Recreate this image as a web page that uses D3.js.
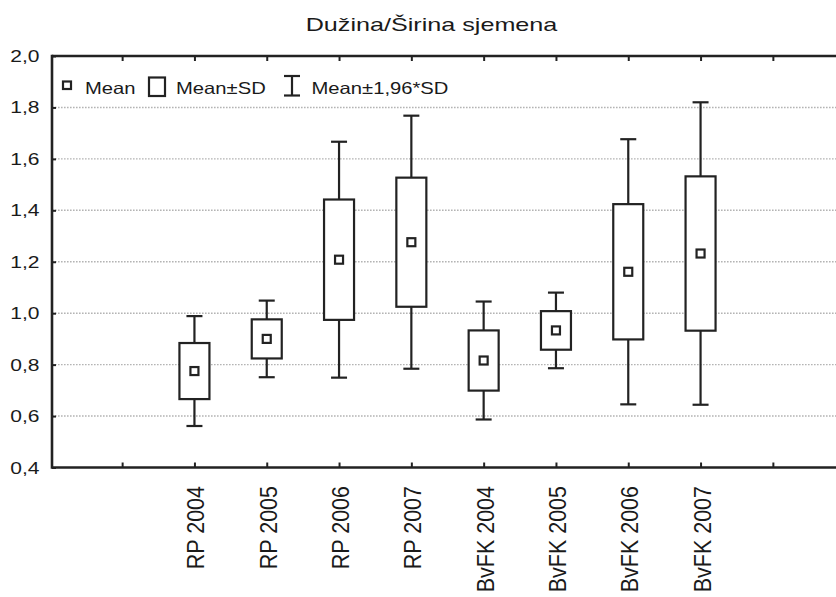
<!DOCTYPE html>
<html>
<head>
<meta charset="utf-8">
<script src="https://cdn.jsdelivr.net/npm/d3@7"></script>
<style>
  html, body { margin: 0; padding: 0; background: #fff; }
  text { font-family: "Liberation Sans", Arial, Helvetica, sans-serif; fill: #1a1a1a; }
</style>
</head>
<body>
<svg id="chart" width="836" height="597"></svg>
<script>
// Seed length/width ratio per group and year
const categories = ["RP 2004", "RP 2005", "RP 2006", "RP 2007",
                    "BvFK 2004", "BvFK 2005", "BvFK 2006", "BvFK 2007"];
const means = [0.775, 0.900, 1.208, 1.276, 0.816, 0.933, 1.161, 1.232];
const sds   = [0.109, 0.076, 0.234, 0.251, 0.117, 0.075, 0.263, 0.300];
const yTicks = [0.4, 0.6, 0.8, 1.0, 1.2, 1.4, 1.6, 1.8, 2.0];
const titleText = "Dužina/Širina sjemena";
const legendLabels = ["Mean", "Mean±SD", "Mean±1,96*SD"];

const W = 836, H = 597;
const plot = { left: 52, right: 843, top: 56, bottom: 467.5 };
const ink = "#222";
const fmt = v => d3.format(".1f")(v).replace(".", ",");

const svg = d3.select("#chart");

// empty slot at each end of the category axis
const slots = ["_a", ...categories, "_b"];
const x = d3.scalePoint().domain(slots).range([plot.left, plot.right]).padding(0.97);
const y = d3.scaleLinear().domain([0.4, 2.0]).range([plot.bottom, plot.top]);

// horizontally widened text helper
function wideText(g, str, tx, ty, size, sx, anchor) {
  return g.append("text")
    .attr("transform", `translate(${tx},${ty}) scale(${sx},1)`)
    .attr("text-anchor", anchor || "start")
    .style("font-size", size + "px")
    .text(str);
}

// title
wideText(svg, titleText, 431.5, 31, 18.5, 1.36, "middle");

// dotted grid lines
svg.append("g").selectAll("line")
  .data(yTicks.filter(v => v > 0.4 && v < 2.0))
  .join("line")
  .attr("x1", plot.left).attr("x2", W)
  .attr("y1", d => y(d)).attr("y2", d => y(d))
  .attr("stroke", "#b4b4b4").attr("stroke-width", 1.4)
  .attr("stroke-dasharray", "1.6,1.4");

// axes: ticks pointing into the plot
const bottomAxis = d3.axisTop(x).tickValues(slots).tickSize(5).tickFormat("");
const topAxis = d3.axisBottom(x).tickValues(slots).tickSize(5).tickFormat("");
const leftAxis = d3.axisRight(y).tickValues(yTicks).tickSize(4).tickFormat("");

function styleAxis(g) {
  g.select(".domain").remove();
  g.selectAll(".tick line").attr("stroke", ink).attr("stroke-width", 2);
}
svg.append("g").attr("transform", `translate(0,${plot.bottom})`).call(bottomAxis).call(styleAxis);
svg.append("g").attr("transform", `translate(0,${plot.top})`).call(topAxis).call(styleAxis);
svg.append("g").attr("transform", `translate(${plot.left},0)`).call(leftAxis).call(styleAxis);

// frame lines
svg.append("line").attr("x1", plot.left).attr("x2", W).attr("y1", plot.bottom).attr("y2", plot.bottom)
  .attr("stroke", ink).attr("stroke-width", 2.6);
svg.append("line").attr("x1", plot.left).attr("x2", W).attr("y1", plot.top).attr("y2", plot.top)
  .attr("stroke", ink).attr("stroke-width", 2.6);
svg.append("line").attr("x1", plot.left).attr("x2", plot.left).attr("y1", plot.top - 1.3).attr("y2", plot.bottom + 1.3)
  .attr("stroke", ink).attr("stroke-width", 2.6);

// y tick labels
const yl = svg.append("g");
yTicks.forEach(v => wideText(yl, fmt(v), 39.5, y(v) + 6, 16.3, 1.29, "end"));

// x category labels, rotated
const xl = svg.append("g");
categories.forEach(c => {
  xl.append("text")
    .attr("transform", `translate(${x(c) + 10},486) scale(1.12,1) rotate(-90)`)
    .attr("text-anchor", "end")
    .style("font-size", "21.5px")
    .text(c);
});

// box plots: box = mean ± SD, whiskers = mean ± 1.96·SD
const boxW = 30, capW = 16, meanS = 8;
const stats = categories.map((c, i) => ({
  c, m: means[i], sd: sds[i],
  lo: means[i] - sds[i], hi: means[i] + sds[i],
  wlo: means[i] - 1.96 * sds[i], whi: means[i] + 1.96 * sds[i]
}));

const g = svg.append("g").attr("stroke", ink).attr("stroke-width", 2.2).attr("fill", "none");
const items = g.selectAll("g.item").data(stats).join("g").attr("class", "item");

items.append("line")
  .attr("x1", d => x(d.c)).attr("x2", d => x(d.c))
  .attr("y1", d => y(d.whi)).attr("y2", d => y(d.hi));
items.append("line")
  .attr("x1", d => x(d.c)).attr("x2", d => x(d.c))
  .attr("y1", d => y(d.lo)).attr("y2", d => y(d.wlo));
items.append("line")
  .attr("x1", d => x(d.c) - capW / 2).attr("x2", d => x(d.c) + capW / 2)
  .attr("y1", d => y(d.whi)).attr("y2", d => y(d.whi));
items.append("line")
  .attr("x1", d => x(d.c) - capW / 2).attr("x2", d => x(d.c) + capW / 2)
  .attr("y1", d => y(d.wlo)).attr("y2", d => y(d.wlo));
items.append("rect")
  .attr("x", d => x(d.c) - boxW / 2).attr("width", boxW)
  .attr("y", d => y(d.hi)).attr("height", d => y(d.lo) - y(d.hi))
  .attr("fill", "#fff");
items.append("rect")
  .attr("x", d => x(d.c) - meanS / 2).attr("width", meanS)
  .attr("y", d => y(d.m) - meanS / 2).attr("height", meanS)
  .attr("fill", "#fff");

// legend
const lg = svg.append("g");
const lgs = lg.append("g").attr("stroke", ink).attr("stroke-width", 2.2).attr("fill", "#fff");
lgs.append("rect").attr("x", 63).attr("y", 81.5).attr("width", 8).attr("height", 7.5);
lgs.append("rect").attr("x", 149).attr("y", 77.5).attr("width", 16).attr("height", 18.5);
lgs.append("line").attr("x1", 292).attr("x2", 292).attr("y1", 76).attr("y2", 95.5);
lgs.append("line").attr("x1", 284).attr("x2", 300).attr("y1", 76).attr("y2", 76);
lgs.append("line").attr("x1", 284).attr("x2", 300).attr("y1", 95.5).attr("y2", 95.5);
wideText(lg, legendLabels[0], 85, 94, 16.3, 1.24);
wideText(lg, legendLabels[1], 176, 94, 16.3, 1.24);
wideText(lg, legendLabels[2], 311.5, 94, 16.3, 1.24);
</script>
</body>
</html>
